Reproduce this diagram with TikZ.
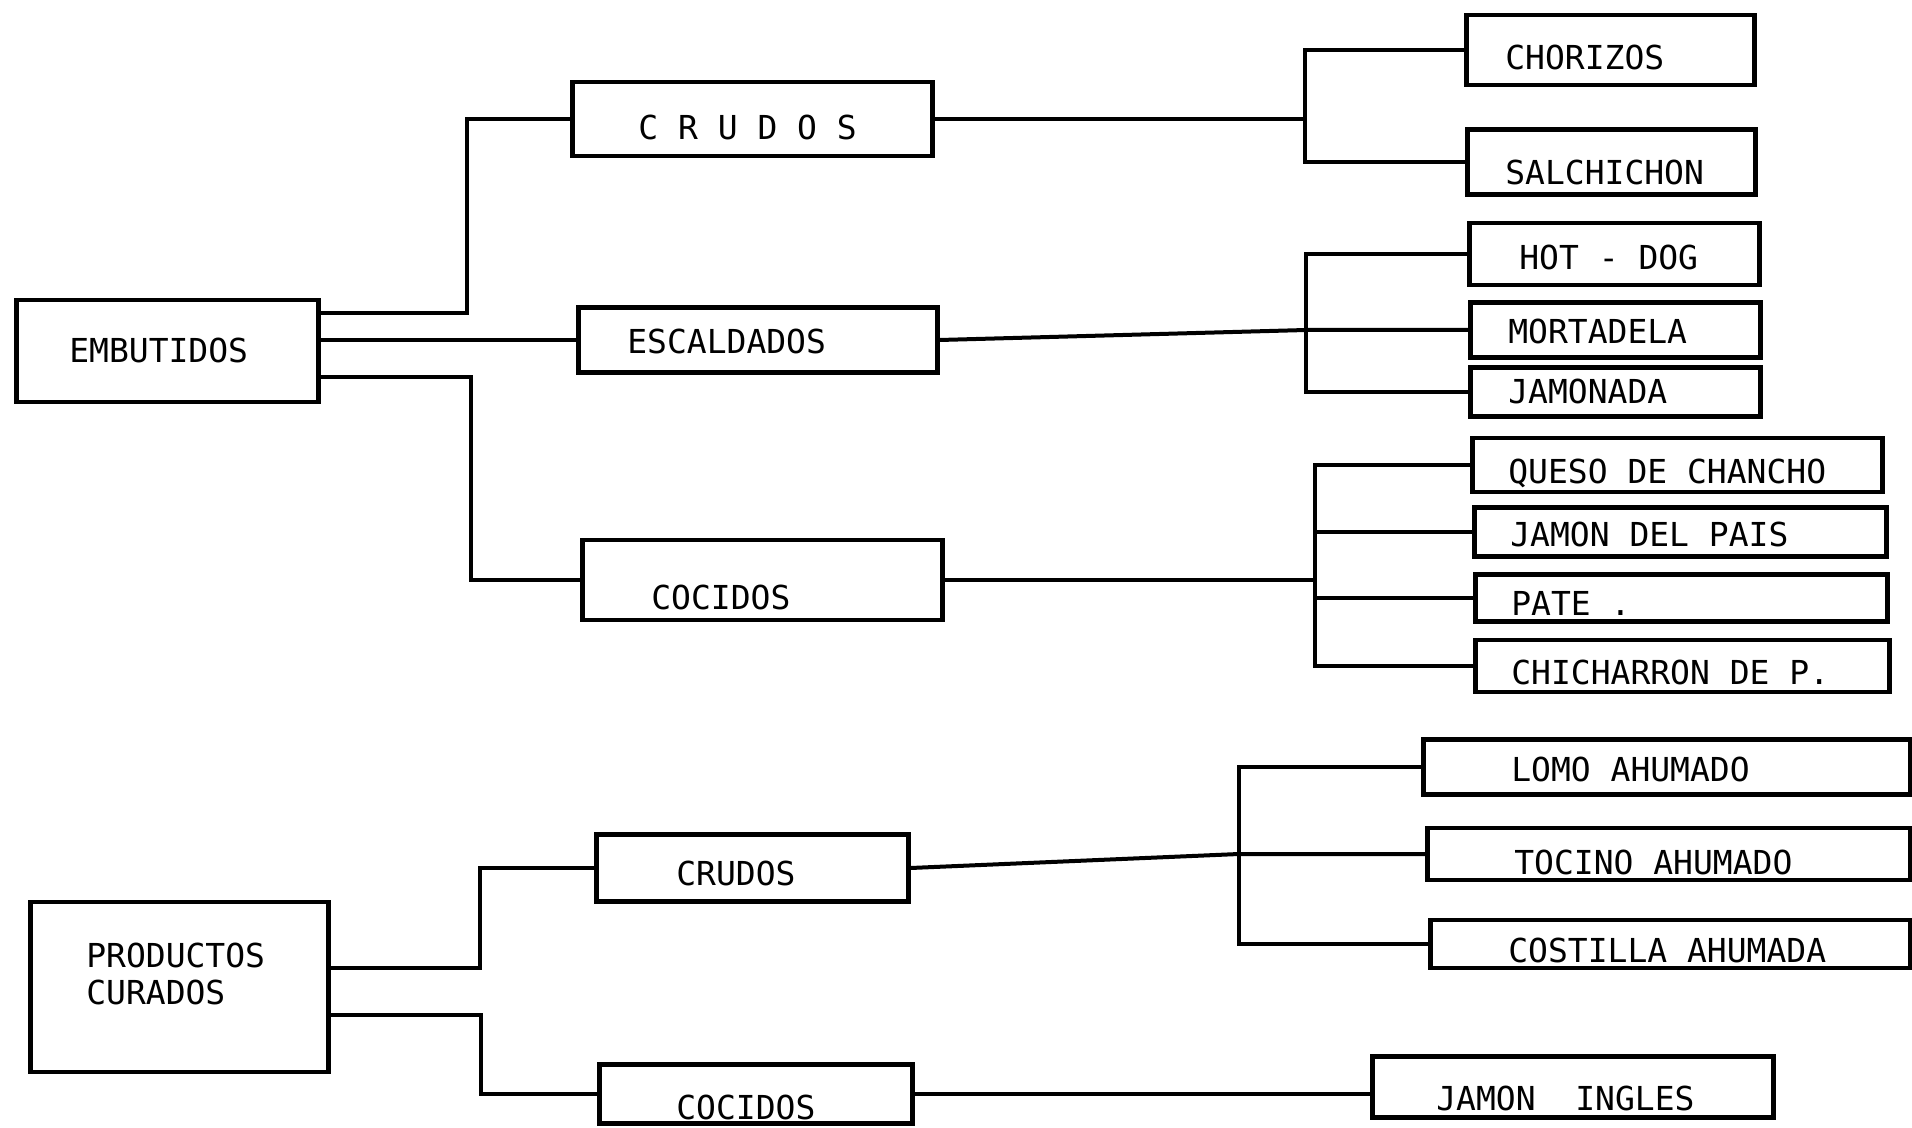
\documentclass[tikz,border=0pt]{standalone}
\usepackage{fontspec}
\setmainfont{DejaVu Sans Mono}
\usepackage{tikz}

\tikzset{
  caja/.style={draw, line width=2.3pt, anchor=west, align=flush left, inner ysep=0pt,
    text height=12pt, text depth=0pt, font=\fontsize{16.5}{18.5}\selectfont},
  linea/.style={line width=2pt},
}

\begin{document}
\begin{tikzpicture}[x=0.5pt, y=-0.5pt]
    \useasboundingbox (0,0) rectangle (1912,1128);

    % Embutidos
    \node[caja, text width=98pt, inner xsep=26.5pt, minimum height=51pt] (emb) at (14,351) {EMBUTIDOS};
    \node[caja, text width=114pt, inner xsep=33pt, minimum height=37pt, text height=21pt] (crE) at (570,119) {C R U D O S};
    \node[caja, text width=130.5pt, inner xsep=24.5pt, minimum height=32.5pt, text height=14pt] (esc) at (576,340) {ESCALDADOS};
    \node[caja, text width=111pt, inner xsep=34.5pt, minimum height=40pt, text height=29pt] (coE) at (580,580) {COCIDOS};

    % crudos
    \node[caja, text width=105pt, inner xsep=19.5pt, minimum height=35pt, text height=20pt] (cho) at (1464,50) {CHORIZOS};
    \node[caja, text width=106pt, inner xsep=19pt, minimum height=32.5pt, text height=23pt] (sal) at (1465,162) {SALCHICHON};

    % escaldados
    \node[caja, text width=95pt, inner xsep=25pt, minimum height=31pt, text height=16pt] (hot) at (1467,254) {HOT - DOG};
    \node[caja, text width=107pt, inner xsep=19pt, minimum height=27.5pt, text height=14pt] (mor) at (1468,330) {MORTADELA};
    \node[caja, text width=107pt, inner xsep=19pt, minimum height=24.5pt] (jmd) at (1468,392) {JAMONADA};

    % cocidos
    \node[caja, text width=169pt, inner xsep=18pt, minimum height=27pt, text height=19pt] (que) at (1470,465) {QUESO DE CHANCHO};
    \node[caja, text width=170pt, inner xsep=18pt, minimum height=24.5pt, text height=14pt] (jdp) at (1472,532) {JAMON DEL PAIS};
    \node[caja, text width=170pt, inner xsep=18pt, minimum height=23.5pt, text height=17pt] (pat) at (1473,598) {PATE .};
    \node[caja, text width=171pt, inner xsep=18pt, minimum height=26pt, text height=18pt] (chi) at (1473,666) {CHICHARRON DE P.};

    % Productos curados
    \node[caja, text width=93pt, inner xsep=28pt, minimum height=85pt, text depth=32pt] (pc) at (28,987) {PRODUCTOS\\CURADOS};
    \node[caja, text width=76pt, inner xsep=40pt, minimum height=33.5pt, text height=17pt] (crC) at (594,868) {CRUDOS};
    \node[caja, text width=79.5pt, inner xsep=38.5pt, minimum height=29.5pt, text height=25pt] (coC) at (597,1094) {COCIDOS};

    \node[caja, text width=155.5pt, inner xsep=44pt, minimum height=27.5pt, text height=14pt] (lom) at (1421,767) {LOMO AHUMADO};
    \node[caja, text width=154.5pt, inner xsep=43.5pt, minimum height=26pt, text height=20pt] (toc) at (1425,854) {TOCINO AHUMADO};
    \node[caja, text width=162pt, inner xsep=39pt, minimum height=24pt, text height=18pt] (cos) at (1428,944) {COSTILLA AHUMADA};
    \node[caja, text width=136.5pt, inner xsep=32pt, minimum height=30.5pt, text height=23pt] (jin) at (1370,1087) {JAMON\ \ INGLES};

    % Conexiones embutidos
    \draw[linea] ([yshift=19pt]emb.east) -- ++(146,0) |- (crE.west);
    \draw[linea] (emb.east |- esc.west) -- (esc.west);
    \draw[linea] ([yshift=-13pt]emb.east) -- ++(150,0) |- (coE.west);

    \path (crE.east) ++(370,0) coordinate (bA);
    \draw[linea] (crE.east) -- (bA);
    \draw[linea] (cho.west) -| (bA) |- (sal.west);

    \path (mor.west) ++(-162,0) coordinate (bB);
    \draw[linea] (esc.east) -- (bB) -- (mor.west);
    \draw[linea] (hot.west) -| (bB) |- (jmd.west);

    \path (coE.east) ++(370,0) coordinate (bC);
    \draw[linea] (coE.east) -- (bC);
    \draw[linea] (que.west) -| (bC) |- (chi.west);
    \draw[linea] (bC |- jdp.west) -- (jdp.west);
    \draw[linea] (bC |- pat.west) -- (pat.west);

    % Conexiones productos curados
    \draw[linea] ([yshift=9.5pt]pc.east) -- ++(149,0) |- (crC.west);
    \draw[linea] ([yshift=-14pt]pc.east) -- ++(150,0) |- (coC.west);

    \path (toc.west) ++(-186,0) coordinate (bD);
    \draw[linea] (crC.east) -- (bD) -- (toc.west);
    \draw[linea] (lom.west) -| (bD) |- (cos.west);

    \draw[linea] (coC.east) -- (coC.east -| jin.west);
\end{tikzpicture}
\end{document}
